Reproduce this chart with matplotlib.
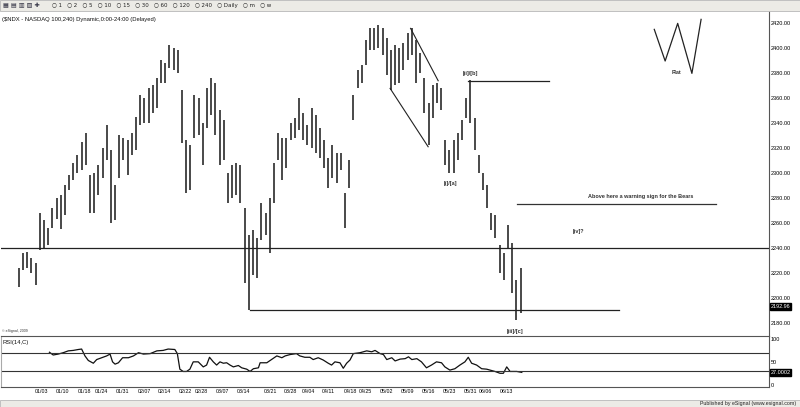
import matplotlib
matplotlib.use("Agg")
import matplotlib.pyplot as plt
from matplotlib.patches import Rectangle

# ---------------- data (trading-day index, 0 = 01/03) ----------------
days = list(range(-6, 115))
highs = [2224, 2236, 2237, 2232, 2228, 2268, 2262, 2256, 2272, 2280,
         2282, 2290, 2298, 2308, 2314, 2325, 2332, 2298, 2300, 2306,
         2320, 2338, 2318, 2290, 2330, 2328, 2326, 2332, 2345, 2362,
         2360, 2368, 2370, 2376, 2390, 2388, 2402, 2400, 2398, 2366,
         2326, 2322, 2362, 2360, 2340, 2368, 2376, 2372, 2350, 2342,
         2300, 2306, 2308, 2306, 2272, 2250, 2254, 2248, 2276, 2268,
         2280, 2308, 2332, 2328, 2328, 2340, 2344, 2360, 2348, 2338,
         2352, 2346, 2336, 2326, 2312, 2322, 2316, 2316, 2284, 2310,
         2362, 2382, 2386, 2406, 2416, 2416, 2418, 2416, 2408, 2398,
         2402, 2400, 2404, 2412, 2416, 2406, 2396, 2376, 2356, 2370,
         2372, 2368, 2326, 2318, 2326, 2332, 2342, 2360, 2374, 2344,
         2314, 2300, 2290, 2268, 2266, 2242, 2236, 2258, 2244, 2214,
         2224]
lows = [2209, 2222, 2224, 2220, 2210, 2238, 2240, 2242, 2256, 2263,
        2255, 2266, 2286, 2294, 2300, 2302, 2306, 2268, 2268, 2282,
        2296, 2310, 2260, 2262, 2296, 2310, 2298, 2314, 2318, 2338,
        2340, 2340, 2348, 2352, 2372, 2372, 2384, 2382, 2380, 2324,
        2284, 2286, 2328, 2330, 2306, 2336, 2346, 2330, 2306, 2310,
        2276, 2280, 2282, 2276, 2212, 2190, 2218, 2216, 2246, 2250,
        2236, 2276, 2310, 2294, 2304, 2326, 2328, 2334, 2326, 2322,
        2320, 2316, 2312, 2304, 2288, 2296, 2292, 2302, 2256, 2288,
        2342, 2368, 2372, 2386, 2398, 2398, 2400, 2394, 2378, 2366,
        2370, 2372, 2382, 2390, 2394, 2372, 2380, 2348, 2322, 2344,
        2356, 2350, 2306, 2300, 2300, 2310, 2326, 2344, 2340, 2318,
        2300, 2286, 2272, 2254, 2248, 2220, 2214, 2240, 2204, 2182,
        2188]
last_price = 2192.96

rsi_pos = [1.3, 2.2, 3.4, 4.6, 5.8, 7.0, 8.2, 9.0, 9.8, 10.6, 11.8, 12.6, 13.8,
           15.0, 15.8, 16.4, 17.0, 17.8, 18.8, 20.2, 21.4, 22.6, 23.8, 25.4,
           27.0, 28.5, 29.7, 31.3, 31.9, 32.5, 33.3, 34.1, 34.9, 35.7, 36.9,
           38.1, 38.9, 39.6, 40.5, 41.3, 42.1, 42.9, 43.7, 44.5, 45.3, 46.5,
           47.3, 48.5, 49.3, 50.1, 51.3, 51.7, 53.3, 54.9, 55.7, 56.9, 57.7,
           58.9, 60.4, 61.2, 62.4, 63.6, 64.4, 65.6, 66.8, 68.0, 68.8, 69.6,
           70.8, 71.6, 72.4, 73.2, 74.0, 75.6, 77.2, 78.4, 79.2, 80.4, 81.2,
           82.0, 83.2, 84.0, 85.2, 86.4, 87.2, 88.0, 89.2, 90.3, 91.5, 92.7,
           93.9, 95.1, 95.9, 97.1, 98.3, 99.5, 100.7, 101.5, 102.3, 103.5,
           104.7, 105.9, 107.1, 107.9, 109.1, 109.9, 110.7, 111.5, 113.1, 114.3]
rsi_vals = [71, 65, 67, 70, 74, 75, 77, 78, 63, 53, 47, 55, 59,
            63, 67, 50, 45, 48, 59, 59, 63, 70, 67, 68,
            74, 75, 78, 77, 68, 34, 29, 29, 34, 50, 50,
            39, 43, 60, 50, 43, 50, 47, 48, 43, 39, 42,
            37, 34, 29, 35, 37, 48, 48, 58, 63, 59, 63,
            66, 68, 63, 60, 60, 55, 59, 54, 47, 43, 50,
            48, 36, 47, 54, 68, 70, 74, 72, 75, 68, 66,
            55, 59, 52, 56, 57, 61, 55, 57, 50, 37, 43,
            50, 48, 39, 32, 35, 43, 50, 60, 47, 43,
            35, 34, 31, 29, 25, 25, 39, 29, 29, 27]
last_rsi = 27.0002

date_labels = ["01/03", "01/10", "01/18", "01/24", "01/31", "02/07", "02/14",
               "02/22", "02/28", "03/07", "03/14", "03/21", "03/28", "04/04",
               "04/11", "04/18", "04/25", "05/02", "05/09", "05/16", "05/23",
               "05/31", "06/06", "06/13"]
date_pos = [-0.5, 4.5, 9.8, 13.7, 18.8, 24.0, 28.9, 33.7, 37.7, 42.7, 47.7,
            54.1, 59.0, 63.2, 68.0, 73.2, 77.0, 82.0, 87.0, 91.9, 97.0,
            102.0, 105.5, 110.7]
price_ticks = list(range(2180, 2421, 20))

# annotations (day index, price)
wedge_upper = ([87.7, 94.3], [2415.5, 2373.6])
wedge_lower = ([82.8, 91.9], [2367.5, 2320.8])
flat_x = [146.0, 148.6, 151.6, 155.0, 157.2]
flat_y = [2414.7, 2389.4, 2419.5, 2379.5, 2422.7]
level_support = 2240
level_low = 2190.2
level_b = 2373.6
level_warn = 2275

# ---------------- figure ----------------
W, H = 800, 407
fig = plt.figure(figsize=(W / 100, H / 100), dpi=100)
FONT = "Liberation Sans"


def rect(x0, y0, x1, y1):
    return [x0 / W, 1 - y1 / H, (x1 - x0) / W, (y1 - y0) / H]


# toolbar and footer bands
fig.patches.append(Rectangle((0, 1 - 10.5 / H), 1, 10.5 / H, transform=fig.transFigure,
                             facecolor="#ecebe6", edgecolor="#b8b8b8", lw=0.6))
fig.patches.append(Rectangle((0, 0), 1, 7.5 / H, transform=fig.transFigure,
                             facecolor="#ecebe6", edgecolor="#b8b8b8", lw=0.6))
fig.text(3 / W, 1 - 5.5 / H, "▦ ▤ ▥ ▧ ✚", fontsize=4.5, va="center", color="#334",
         family="DejaVu Sans")
fig.text(52 / W, 1 - 5.5 / H,
         "○ 1   ○ 2   ○ 5   ○ 10   ○ 15   ○ 30   ○ 60   ○ 120   ○ 240   ○ Daily   ○ m   ○ w",
         fontsize=4, va="center", color="#222", family="DejaVu Sans")
fig.text(796 / W, 3.5 / H, "Published by eSignal (www.esignal.com)", fontsize=3.8,
         ha="right", va="center", family=FONT, color="#222")

xlim = ((1 - 44) / 4.18, (769 - 44) / 4.18)

# ---------------- price panel ----------------
ax = fig.add_axes(rect(1, 11, 769, 336))
ax.set_xlim(*xlim)
ax.set_ylim(2169.4, 2429.4)
ax.vlines(days, lows, highs, color="#3a3a3a", lw=1.3)
ax.axhline(level_support, color="#222222", lw=0.9)
ax.plot([49.3, 137.6], [level_low, level_low], color="#222222", lw=0.9)
ax.plot([101.4, 120.8], [level_b, level_b], color="#222222", lw=0.9)
ax.plot([113.2, 160.8], [level_warn, level_warn], color="#333333", lw=0.9)
ax.plot(*wedge_upper, color="#222222", lw=0.8)
ax.plot(*wedge_lower, color="#222222", lw=0.8)
ax.plot(flat_x, flat_y, color="#222222", lw=0.9)

txt = dict(fontsize=4, family=FONT, ha="center", va="center", color="#333333",
           fontweight="bold")
ax.text(151.2, 2380.6, "Flat", **txt)
ax.text(102.0, 2379.8, "[ii]/[b]", **txt)
ax.text(97.2, 2291.8, "[i]/[a]", **txt)
ax.text(127.8, 2253.4, "[iv]?", **txt)
ax.text(112.7, 2173.4, "[iii]/[c]", **txt)
ax.text(142.8, 2281.2, "Above here a warning sign for the Bears", **txt)

ax.yaxis.tick_right()
ax.set_yticks(price_ticks)
ax.set_yticklabels([f"{v:.2f}" for v in price_ticks], fontsize=4, family=FONT)
ax.tick_params(axis="y", length=0, pad=1.5)
ax.set_xticks([])
for s in ["top", "bottom", "left"]:
    ax.spines[s].set_visible(False)
ax.spines["right"].set_color("#555555")
ax.spines["right"].set_linewidth(0.8)
ax.text(1.002, last_price, f"{last_price:.2f}", transform=ax.get_yaxis_transform(),
        fontsize=4, family=FONT, color="white", va="center", ha="left",
        bbox=dict(boxstyle="square,pad=0.15", fc="black", ec="black"))
ax.text(0.0015, 0.01, "© eSignal, 2009", transform=ax.transAxes, fontsize=2.6,
        family=FONT, va="bottom", ha="left", color="#333")
ax.text(0.0015, 0.983, "($NDX - NASDAQ 100,240) Dynamic,0:00-24:00 (Delayed)",
        transform=ax.transAxes, fontsize=4.2, family=FONT, va="top", ha="left",
        color="#111")

# ---------------- RSI panel ----------------
rx = fig.add_axes(rect(1, 336, 769, 386.7))
rx.set_xlim(*xlim)
rx.set_ylim(-4.3, 106.5)
rx.plot(rsi_pos, rsi_vals, color="#111111", lw=0.9)
rx.axhline(70, color="#333333", lw=0.8)
rx.axhline(30, color="#333333", lw=0.8)
rx.yaxis.tick_right()
rx.set_yticks([0, 50, 100])
rx.set_yticklabels(["0", "50", "100"], fontsize=4, family=FONT)
rx.tick_params(axis="y", length=0, pad=1.5)
rx.set_xticks(date_pos)
rx.set_xticklabels(date_labels, fontsize=3.8, family=FONT)
rx.tick_params(axis="x", length=0, pad=2)
for s in rx.spines.values():
    s.set_color("#555555")
    s.set_linewidth(0.8)
rx.spines["left"].set_color("#aaaaaa")
rx.text(1.002, last_rsi, f"{last_rsi:.4f}", transform=rx.get_yaxis_transform(),
        fontsize=4, family=FONT, color="white", va="center", ha="left",
        bbox=dict(boxstyle="square,pad=0.15", fc="black", ec="black"))
rx.text(0.0015, 0.93, "RSI(14,C)", transform=rx.transAxes, fontsize=4.2,
        family=FONT, va="top", ha="left", color="#111")

fig.savefig("out.png", dpi=100)
